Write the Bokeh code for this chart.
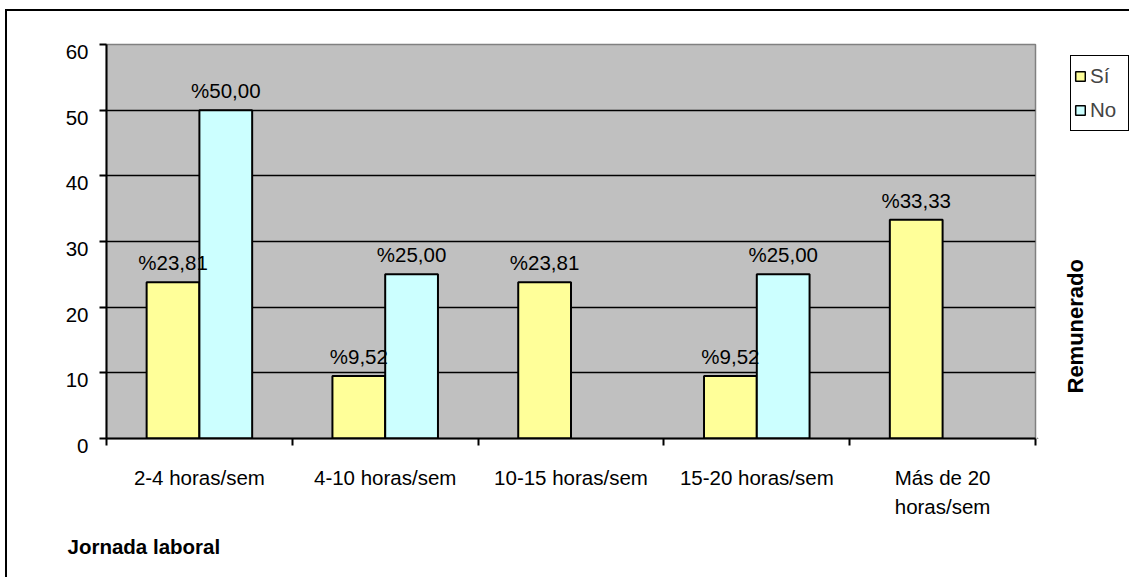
import numpy as np
from bokeh.plotting import figure
from bokeh.layouts import row, column
from bokeh.models import (ColumnDataSource, FixedTicker, Range1d, Label, LabelSet,
                          Legend, LegendItem)
from bokeh.core.properties import value
from bokeh.embed import file_html
from bokeh.resources import INLINE

# ---- data ----
categories = ["2-4 horas/sem", "4-10 horas/sem", "10-15 horas/sem",
              "15-20 horas/sem", "Más de 20\nhoras/sem"]
si_values = [23.81, 9.52, 23.81, 9.52, 33.33]
no_values = [50.00, 25.00, None, 25.00, None]
series_names = ["Sí", "No"]
series_colors = ["#FFFF99", "#CCFFFF"]
y_ticks = [0, 10, 20, 30, 40, 50, 60]
x_title = "Jornada laboral"
legend_title = "Remunerado"

FONT = "Liberation Sans"
FS = "20.5px"

n = len(categories)
idx = np.arange(n)
centers = idx + 0.5
offset = 0.142
bw = 0.284


def fmt(v):
    return "%" + f"{v:.2f}".replace(".", ",")


MAIN_W, MAIN_H = 1030, 520
SIDE_W = 94
BOT_H = 48
BORDER_TOP, BORDER_BOTTOM = 33, 93
FRAME_H = MAIN_H - BORDER_TOP - BORDER_BOTTOM

p = figure(width=MAIN_W, height=MAIN_H, output_backend="svg", toolbar_location=None,
           x_range=Range1d(0, n), y_range=Range1d(0, 60),
           min_border_left=99, min_border_right=2, min_border_top=BORDER_TOP,
           min_border_bottom=BORDER_BOTTOM,
           background_fill_color="#C0C0C0", border_fill_color="white",
           outline_line_color="#808080", outline_line_width=1.5)

# grid
p.xgrid.visible = False
p.ygrid.ticker = FixedTicker(ticks=y_ticks[1:-1])
p.ygrid.grid_line_color = "black"
p.ygrid.grid_line_width = 1.5

# y axis (labels sit slightly below their ticks, as in the original)
ya = p.yaxis[0]
ya.ticker = FixedTicker(ticks=y_ticks)
ya.major_tick_out = 7
ya.major_tick_in = 0
ya.minor_tick_line_color = None
ya.axis_line_color = "black"
ya.axis_line_width = 2
ya.major_tick_line_color = "black"
ya.major_tick_line_width = 2
ya.major_label_standoff = 11
ya.major_label_text_font = FONT
ya.major_label_text_font_size = FS
ya.major_label_text_color = "black"
ya.major_label_overrides = {t: "\n" + str(t) for t in y_ticks}
ya.major_label_text_line_height = 0.6

# x axis: labels at category centres, ticks at boundaries
xa = p.xaxis[0]
xa.ticker = FixedTicker(ticks=list(centers), minor_ticks=list(range(n + 1)))
xa.major_tick_out = 0
xa.major_tick_in = 0
xa.major_tick_line_color = None
xa.minor_tick_out = 7
xa.minor_tick_in = 0
xa.minor_tick_line_color = "black"
xa.minor_tick_line_width = 2
xa.axis_line_color = "black"
xa.axis_line_width = 2
xa.major_label_overrides = {float(c): cat for c, cat in zip(centers, categories)}
xa.major_label_standoff = 20
xa.major_label_text_font = FONT
xa.major_label_text_font_size = FS
xa.major_label_text_color = "black"
xa.major_label_text_line_height = 1.3

for k, (vals, color) in enumerate(zip([si_values, no_values], series_colors)):
    keep = [i for i, v in enumerate(vals) if v is not None]
    src = ColumnDataSource(dict(
        x=[centers[i] + (-offset if k == 0 else offset) for i in keep],
        top=[vals[i] for i in keep],
        label=[fmt(vals[i]) for i in keep],
    ))
    p.vbar(x="x", top="top", width=bw, bottom=0, source=src,
           fill_color=color, line_color="black", line_width=2)
    labels = LabelSet(x="x", y="top", text="label", source=src,
                      text_align="center", text_baseline="alphabetic",
                      y_offset=12, text_font=value(FONT), text_font_size=value(FS),
                      text_color="black")
    p.add_layout(labels)

# ---- right strip: legend + legend title (frame lines up with the main frame) ----
side = figure(width=SIDE_W, height=MAIN_H, output_backend="svg", toolbar_location=None,
              x_range=Range1d(0, SIDE_W), y_range=Range1d(0, FRAME_H),
              x_axis_type=None, y_axis_type=None,
              min_border_left=0, min_border_right=0,
              min_border_bottom=BORDER_BOTTOM, min_border_top=BORDER_TOP,
              outline_line_color=None, background_fill_color="white",
              border_fill_color="white")
leg_renderers = []
for color in series_colors:
    # legend swatch proxy, kept outside the visible range
    r = side.vbar(x=[-1000], top=[-1000], width=1, fill_color=color,
                  line_color="black", line_width=1.5)
    leg_renderers.append(r)
legend = Legend(items=[LegendItem(label=nm, renderers=[r])
                       for nm, r in zip(series_names, leg_renderers)],
                location=(33, 307), orientation="vertical",
                glyph_width=12, glyph_height=12, label_standoff=4,
                label_height=34, label_width=35, spacing=0, padding=3, margin=0,
                label_text_font=FONT, label_text_font_size=FS,
                border_line_color="black", border_line_width=1.5,
                border_line_alpha=1,
                background_fill_color="white", background_fill_alpha=1)
side.add_layout(legend)
side.add_layout(Label(x=38, y=45, text=legend_title, angle=np.pi / 2,
                      text_align="left", text_baseline="middle",
                      text_font=FONT, text_font_size="22px", text_font_style="bold",
                      text_color="black"))

# ---- bottom strip: x title ----
bottom = figure(width=MAIN_W + SIDE_W, height=BOT_H, output_backend="svg",
                toolbar_location=None,
                x_range=Range1d(0, MAIN_W + SIDE_W), y_range=Range1d(0, BOT_H),
                x_axis_type=None, y_axis_type=None, min_border=0,
                outline_line_color=None, background_fill_color="white",
                border_fill_color="white")
bottom.add_layout(Label(x=60, y=33, text=x_title, text_align="left",
                        text_baseline="alphabetic", text_font=FONT,
                        text_font_size=FS, text_font_style="bold",
                        text_color="black"))

layout = column(row(p, side, spacing=0), bottom, spacing=0,
                styles={"box-shadow": "-2px -2px 0 0 black", "position": "relative",
                        "left": "7px", "top": "11px"})

open("out.html", "w").write(file_html(layout, INLINE))
